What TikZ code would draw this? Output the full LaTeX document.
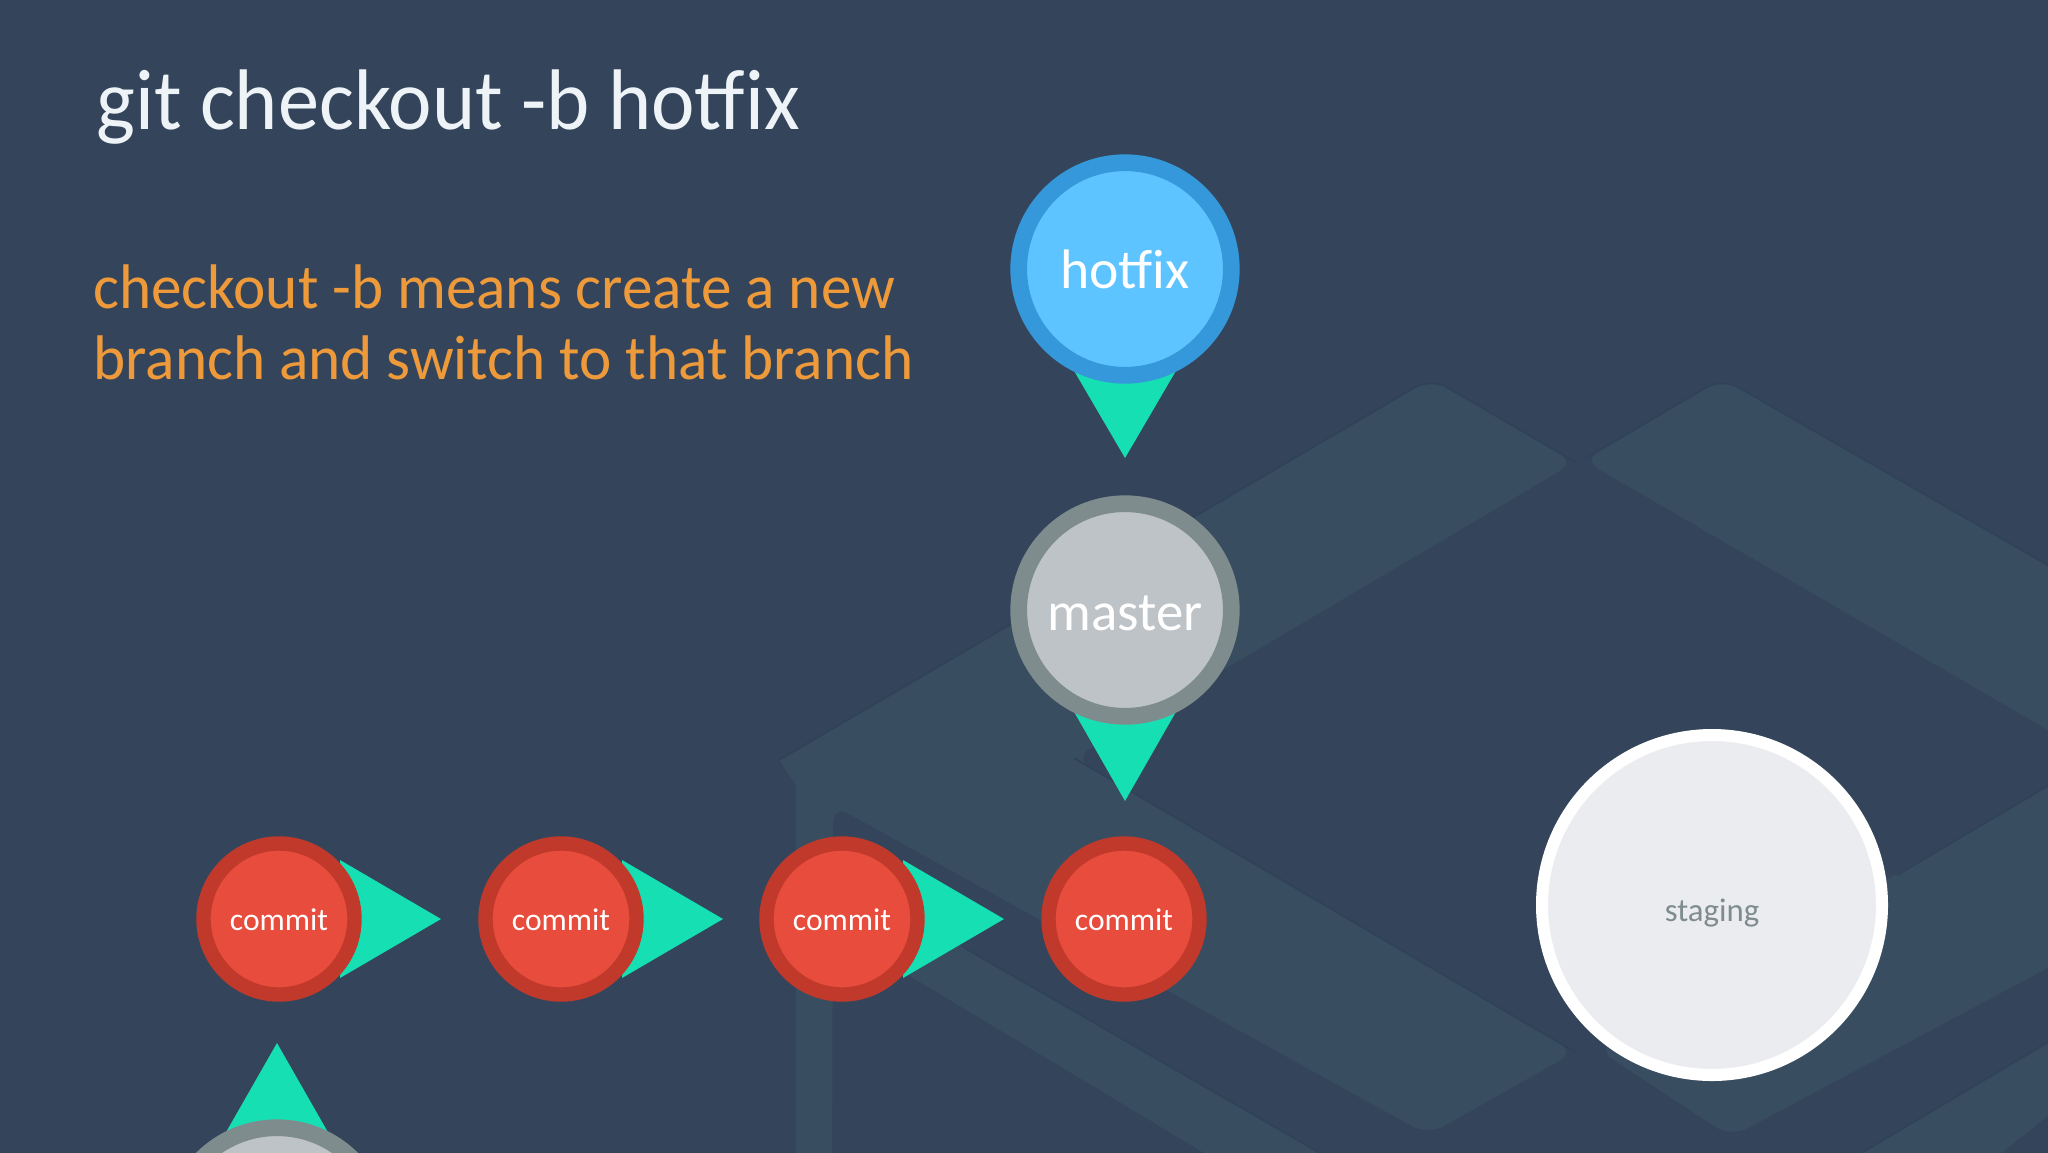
\documentclass[tikz,border=0pt]{standalone}
\usepackage{fontspec}
\setmainfont{Carlito}
\newfontfamily\titlefont[FakeStretch=0.957]{Carlito}
\newfontfamily\bodyfont[FakeStretch=0.972]{Carlito}
\definecolor{bgc}{HTML}{34455B}
\definecolor{lit}{HTML}{394D60}
\definecolor{edgec}{HTML}{304259}
\definecolor{teal}{HTML}{16DFB4}
\definecolor{hotring}{HTML}{3498DB}
\definecolor{hotfill}{HTML}{5EC4FF}
\definecolor{masring}{HTML}{7F8C8D}
\definecolor{masfill}{HTML}{BDC3C7}
\definecolor{comring}{HTML}{C0392B}
\definecolor{comfill}{HTML}{E74C3C}
\definecolor{stafill}{HTML}{EBECEF}
\definecolor{stext}{HTML}{7F8C8D}
\definecolor{titlec}{HTML}{EEF3F8}
\definecolor{bodyc}{HTML}{EE9A3A}
\pgfdeclarelayer{back}
\pgfsetlayers{back,main}
\tikzset{
  panel/.style={fill=lit,rounded corners=9pt},
  rim/.style={draw=edgec,line width=0.9pt,rounded corners=9pt},
  arrowtri/.style={fill=teal},
  bubble/.style={circle,inner sep=0pt,text=white,align=center},
  hotbub/.style={bubble,draw=hotring,fill=hotfill,minimum size=106.3pt,line width=8.35pt,font=\fontsize{27.8}{27.8}\selectfont,text height=19pt,text depth=0pt},
  masbub/.style={bubble,draw=masring,fill=masfill,minimum size=106.3pt,line width=8.35pt,font=\fontsize{27.4}{27.4}\selectfont,text height=20pt,text depth=0pt},
  combub/.style={bubble,draw=comring,fill=comfill,minimum size=75.5pt,line width=7.2pt,font=\fontsize{15.8}{15.8}\selectfont,text height=11pt,text depth=0pt},
  stabub/.style={bubble,draw=white,fill=stafill,text=stext,minimum size=170pt,line width=6pt,font=\fontsize{16.4}{16.4}\selectfont,text height=16.5pt,text depth=0pt},
}
\begin{document}
\begin{tikzpicture}[x=0.5pt,y=-0.5pt]
\useasboundingbox (0,0) rectangle (2048,1152);
\begin{pgfonlayer}{back}
\fill[bgc] (-10,-10) rectangle (2060,1170);
% desk top and leg
\fill[panel] (779,760) -- (1431,378) -- (1575,462) -- (1074,758) -- (1575,1052) -- (1428,1135) -- (833,805) [sharp corners] -- (832,1200) -- (796,1200) -- (796,785) -- cycle;
\draw[rim] (779,760) -- (1431,378) -- (1575,462);
\draw[rim] (1074,758) -- (1575,1052);
% lower shelf
\fill[lit] (880,900) -- (1332,1160) -- (1216,1160) -- (880,958) -- cycle;
\draw[edgec,line width=0.9pt] (963,947) -- (1332,1160);
% right desk panels
\fill[panel] (1722,378) -- (2100,595) -- (2100,760) -- (1583,460) -- cycle;
\draw[rim] (1583,460) -- (1722,378) -- (2100,595);
\fill[panel] (1597,1049) -- (2100,755) -- (2100,940) -- (1731,1137) -- cycle;
\draw[edgec,line width=0.9pt] (1897,875) -- (2100,755);
\fill[lit] (1863,1152) -- (2060,1035) -- (2060,1106) -- (1980,1170) -- (1840,1170) -- cycle;
\draw[edgec,line width=0.9pt] (1863,1152) -- (2060,1035);
\end{pgfonlayer}
\node[anchor=base west,text=titlec,font=\titlefont\fontsize{43}{43}\selectfont,inner sep=0pt] (title) at (96,129) {git checkout -b hotfix};
\node[anchor=base west,text=bodyc,font=\bodyfont\fontsize{31.5}{35.5}\selectfont,inner sep=0pt,align=left] (body) at (93,379) {checkout -b means create a new\\branch and switch to that branch};
\node[hotbub] (hotfix) at (1125,269) {hotfix};
\node[masbub] (master) at (1125,610) {master};
\node[combub] (c1) at (279,919) {commit};
\node[combub] (c2) at (561,919) {commit};
\node[combub] (c3) at (842,919) {commit};
\node[combub] (c4) at (1124,919) {commit};
\node[stabub] (staging) at (1712,905) {staging};
\node[masbub] (master2) at (277,1234) {};
\begin{pgfonlayer}{back}
\foreach \n in {c1,c2,c3}
  \fill[arrowtri] (\n.center) ++(61,-59) -- ++(101,59) -- ++(-101,59) -- cycle;
\fill[arrowtri] (hotfix.center) ++(-52,100) -- ++(52,89) -- ++(52,-89) -- cycle;
\fill[arrowtri] (master.center) ++(-52,100) -- ++(52,91) -- ++(52,-91) -- cycle;
\fill[arrowtri] (master2.center) ++(-52,-100) -- ++(52,-91) -- ++(52,91) -- cycle;
\end{pgfonlayer}
\end{tikzpicture}
\end{document}
